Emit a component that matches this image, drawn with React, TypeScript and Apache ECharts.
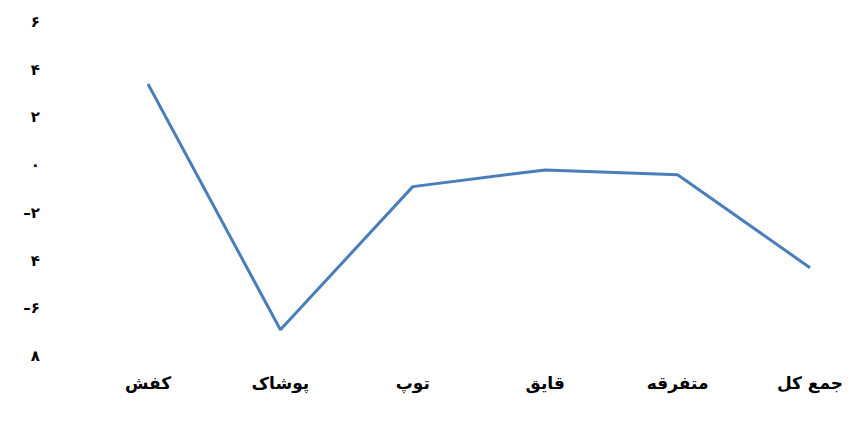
import React, { useEffect, useRef } from "react";
import * as echarts from "echarts";

const categories = ["کفش", "پوشاک", "توپ", "قایق", "متفرقه", "جمع کل"];
const values = [3.4, -6.9, -0.9, -0.2, -0.4, -4.3];
const yTickValues = [-8, -6, -4, -2, 0, 2, 4, 6];
const yTickLabels = ["۸", "–۶", "۴", "–۲", "۰", "۲", "۴", "۶"];

export default function App() {
  const ref = useRef<HTMLDivElement>(null);
  useEffect(() => {
    if (!ref.current) return;
    const chart = echarts.init(ref.current, null, { renderer: "svg" });
    chart.setOption({
      animation: false,
      grid: { left: 140, right: 44, top: 14, bottom: 59, containLabel: false },
      xAxis: {
        type: "category",
        data: categories,
        boundaryGap: false,
        axisLine: { show: false },
        axisTick: { show: false },
        splitLine: { show: false },
        axisLabel: {
          margin: 18,
          color: "#000",
          fontWeight: "bold",
          fontSize: 17,
          fontFamily: "DejaVu Sans",
        },
      },
      yAxis: {
        type: "value",
        min: -8,
        max: 6,
        interval: 2,
        axisLine: { show: false },
        axisTick: { show: false },
        splitLine: { show: false },
        axisLabel: {
          margin: 108,
          color: "#000",
          fontWeight: "bold",
          fontSize: 15,
          fontFamily: "DejaVu Sans",
          formatter: (v: number) => {
            const i = yTickValues.indexOf(v);
            return i >= 0 ? yTickLabels[i] : "";
          },
        },
      },
      series: [
        {
          type: "line",
          data: values,
          symbol: "none",
          lineStyle: { color: "#4A7EBB", width: 3 },
        },
      ],
    });
    return () => chart.dispose();
  }, []);
  return <div ref={ref} style={{ width: 846, height: 407 }} />;
}
